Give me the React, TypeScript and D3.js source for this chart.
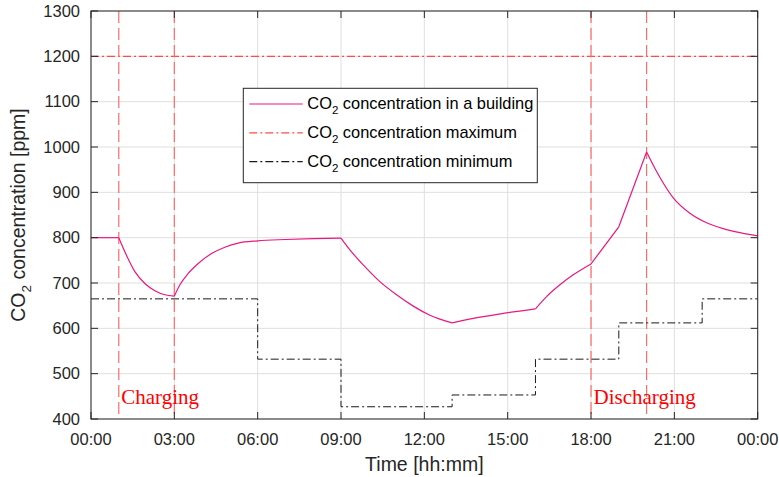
import React from 'react';
import * as d3 from 'd3';

// building CO2 profile (hours, ppm)
const buildingHours = [0, 1, 1.34, 1.58, 1.94, 2.3, 2.66, 3, 3.2, 3.5, 3.86, 4.34, 4.82, 5.3, 6, 7, 8, 9, 9.32, 9.8, 10.4, 11, 11.6, 12.2, 13, 13.76, 14.96, 16, 16.4, 16.88, 17.36, 18, 19, 20, 20.36, 20.96, 21.56, 22.16, 22.76, 23.36, 24];
const buildingPpm = [800, 800, 753, 725, 699, 683, 674, 671, 696, 721, 743, 765, 779, 788, 793, 796, 798, 799, 773, 740, 703, 674, 649, 629, 612, 622, 634, 643, 670, 696, 718, 742, 824, 989, 946, 888, 854, 833, 820, 811, 804];
// hours where the curve has a corner
const kinkHours = [1, 3, 9, 13, 16, 18, 19, 20];

// minimum CO2 (stepwise)
const minHours = [0, 6, 9, 13, 16, 19, 22, 24];
const minPpm = [665, 532, 427, 453, 532, 612, 665, 665];

const maxPpm = 1200;

// charging / discharging boundaries
const phaseHours = [1, 3, 18, 20];

const xTicks = [0, 3, 6, 9, 12, 15, 18, 21, 24];
const xTickLabels = ['00:00', '03:00', '06:00', '09:00', '12:00', '15:00', '18:00', '21:00', '00:00'];
const yTicks = [400, 500, 600, 700, 800, 900, 1000, 1100, 1200, 1300];

const W = 779;
const H = 477;
const margin = { top: 11, right: 21.3, bottom: 58, left: 91 };
const font = '"Liberation Sans", Arial, sans-serif';
const axisColor = '#262626';
const gridColor = '#dfdfdf';
const buildingColor = '#e8197f';
const redColor = '#ff4b4b';

export default function App() {
  const iw = W - margin.left - margin.right;
  const ih = H - margin.top - margin.bottom;

  const x = d3.scaleLinear().domain([0, 24]).range([0, iw]);
  const y = d3.scaleLinear().domain([400, 1300]).range([ih, 0]);

  // split building curve into smooth pieces between corners
  const pts = buildingHours.map((h, i) => [h, buildingPpm[i]] as [number, number]);
  const segments: [number, number][][] = [];
  let cur: [number, number][] = [];
  pts.forEach((p) => {
    cur.push(p);
    if (kinkHours.includes(p[0])) {
      segments.push(cur);
      cur = [p];
    }
  });
  if (cur.length > 1) segments.push(cur);

  const smooth = d3.line<[number, number]>()
    .x(d => x(d[0]))
    .y(d => y(d[1]))
    .curve(d3.curveMonotoneX);

  const stepLine = d3.line<number>()
    .x((_, i) => x(minHours[i]))
    .y(d => y(d))
    .curve(d3.curveStepAfter);

  const tickLen = 7;

  const legendItems = [
    { label: ' concentration in a building', stroke: buildingColor, dash: undefined },
    { label: ' concentration maximum', stroke: redColor, dash: '8,3,2,3' },
    { label: ' concentration minimum', stroke: '#1a1a1a', dash: '8,3,2,3' },
  ];

  return (
    <svg width={W} height={H} style={{ position: 'absolute', left: 0, top: 0, background: '#fff' }}
      fontFamily={font}>
      <g transform={`translate(${margin.left},${margin.top})`}>
        {/* grid */}
        {xTicks.map((t, i) => (
          <line key={'gx' + i} x1={x(t)} x2={x(t)} y1={0} y2={ih} stroke={gridColor} />
        ))}
        {yTicks.map((t, i) => (
          <line key={'gy' + i} x1={0} x2={iw} y1={y(t)} y2={y(t)} stroke={gridColor} />
        ))}

        {/* maximum */}
        <line x1={0} x2={iw} y1={y(maxPpm)} y2={y(maxPpm)} stroke={redColor} strokeWidth={1.2}
          strokeDasharray="8,3,2,3" />

        {/* phase boundaries */}
        {phaseHours.map((h, i) => (
          <line key={'ph' + i} x1={x(h)} x2={x(h)} y1={0} y2={ih} stroke="#ff6a6a" strokeWidth={1.2}
            strokeDasharray="12,5" />
        ))}

        {/* minimum */}
        <path d={stepLine(minPpm) || ''} fill="none" stroke="#1a1a1a" strokeWidth={1}
          strokeDasharray="8,3,2,3" />

        {/* building */}
        {segments.map((s, i) => (
          <path key={'seg' + i} d={smooth(s) || ''} fill="none" stroke={buildingColor} strokeWidth={1.2} />
        ))}

        {/* phase labels */}
        <text x={x(1) + 2.5} y={ih - 15} fill="#ff0000" fontFamily='"Liberation Serif", "Times New Roman", serif'
          fontSize={21}>Charging</text>
        <text x={x(18) + 2.5} y={ih - 15} fill="#ff0000" fontFamily='"Liberation Serif", "Times New Roman", serif'
          fontSize={21}>Discharging</text>

        {/* frame */}
        <rect x={0} y={0} width={iw} height={ih} fill="none" stroke={axisColor} strokeWidth={1} />
        {xTicks.map((t, i) => (
          <g key={'xt' + i}>
            <line x1={x(t)} x2={x(t)} y1={ih} y2={ih - tickLen} stroke={axisColor} />
            <line x1={x(t)} x2={x(t)} y1={0} y2={tickLen} stroke={axisColor} />
            <text x={x(t)} y={ih + 26} textAnchor="middle" fontSize={16.5} fill={axisColor}>{xTickLabels[i]}</text>
          </g>
        ))}
        {yTicks.map((t, i) => (
          <g key={'yt' + i}>
            <line x1={0} x2={tickLen} y1={y(t)} y2={y(t)} stroke={axisColor} />
            <line x1={iw} x2={iw - tickLen} y1={y(t)} y2={y(t)} stroke={axisColor} />
            <text x={-11} y={y(t)} dy="0.35em" textAnchor="end" fontSize={16.5} fill={axisColor}>{t}</text>
          </g>
        ))}

        {/* legend */}
        <g transform="translate(152.3,77.3)">
          <rect x={0} y={0} width={294} height={94.4} fill="#fff" stroke={axisColor} strokeWidth={1} />
          {legendItems.map((it, i) => {
            const ly = 15.7 + i * 28.8;
            return (
              <g key={'lg' + i}>
                <line x1={6} x2={59.4} y1={ly} y2={ly} stroke={it.stroke} strokeWidth={1.2}
                  strokeDasharray={it.dash} />
                <text x={64} y={ly + 5.5} fontSize={16.4} fill="#000">
                  CO<tspan fontSize={11.5} dy={5}>2</tspan><tspan dy={-5}>{it.label}</tspan>
                </text>
              </g>
            );
          })}
        </g>
      </g>

      {/* axis labels */}
      <text x={margin.left + iw / 2} y={471} textAnchor="middle" fontSize={19.5} fill={axisColor}>Time [hh:mm]</text>
      <text transform={`translate(25,${margin.top + ih / 2}) rotate(-90)`} textAnchor="middle" fontSize={19.5}
        fill={axisColor}>
        CO<tspan fontSize={13.5} dy={6}>2</tspan><tspan dy={-6}> concentration [ppm]</tspan>
      </text>
    </svg>
  );
}
